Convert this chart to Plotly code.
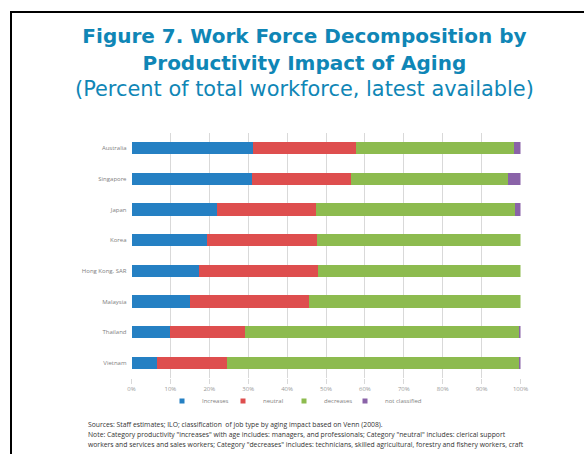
import plotly.graph_objects as go

W, H = 584, 454

countries = ["Australia", "Singapore", "Japan", "Korea", "Hong Kong, SAR",
             "Malaysia", "Thailand", "Vietnam"]
increases = [31.3, 31.0, 22.0, 19.5, 17.3, 15.0, 9.8, 6.5]
neutral = [26.4, 25.4, 25.5, 28.1, 30.7, 30.6, 19.3, 18.0]
decreases = [40.5, 40.3, 51.2, 52.4, 52.0, 54.4, 70.6, 75.2]
not_classified = [1.8, 3.3, 1.3, 0.0, 0.0, 0.0, 0.3, 0.3]

series_names = ["Increases", "neutral", "decreases", "not classified"]
series_values = [increases, neutral, decreases, not_classified]
series_colors = ["#2580C3", "#DE4E4E", "#8DBB4F", "#8A63A8"]

x_tickvals = [0, 10, 20, 30, 40, 50, 60, 70, 80, 90, 100]
x_ticktext = [f"{v}%" for v in x_tickvals]

title_line1 = "Figure 7. Work Force Decomposition by"
title_line2 = "Productivity Impact of Aging"
title_line3 = "(Percent of total workforce, latest available)"
notes = [
    "Sources: Staff estimates; ILO; classification  of job type by aging impact based on Venn (2008).",
    "Note: Category productivity \"increases\" with age includes: managers, and professionals; Category \"neutral\" includes: clerical support",
    "workers and services and sales workers; Category \"decreases\" includes: technicians, skilled agricultural, forestry and fishery workers, craft",
]

FONT = "Open Sans"
TITLE_FONT = "DejaVu Sans"
TITLE_COLOR = "#0F86B6"

fig = go.Figure()
for name, vals, col in zip(series_names, series_values, series_colors):
    fig.add_trace(go.Bar(
        y=countries, x=vals, name=name, orientation="h",
        marker=dict(color=col, line=dict(width=0)),
        showlegend=False,
    ))
for name, col in zip(series_names, series_colors):
    fig.add_trace(go.Scatter(
        x=[None], y=[None], mode="markers", name=name,
        marker=dict(symbol="square", size=5, color=col),
    ))
# spacer entry so the last legend label is not clipped
fig.add_trace(go.Scatter(
    x=[None], y=[None], mode="markers", name=" ", hoverinfo="skip",
    marker=dict(symbol="square", size=5, color="rgba(0,0,0,0)"),
))


def py(ypix):
    return 1 - ypix / H


def px(xpix):
    return xpix / W


fig.update_layout(
    width=W, height=H, autosize=False,
    margin=dict(l=0, r=0, t=0, b=0),
    paper_bgcolor="white", plot_bgcolor="white",
    barmode="stack", bargap=0.6,
    font=dict(family=FONT, size=6, color="#808080"),
    xaxis=dict(
        domain=[px(131.5), px(520.5)], range=[0, 100],
        tickvals=x_tickvals, ticktext=x_ticktext,
        showgrid=True, gridcolor="#D9D9D9", gridwidth=1,
        zeroline=False, showline=False,
        ticks="outside", ticklen=5, tickcolor="#D9D9D9",
        tickfont=dict(size=6, color="#999999"),
        fixedrange=True, automargin=False,
    ),
    yaxis=dict(
        domain=[py(378), py(133)],
        autorange="reversed",
        showgrid=False, zeroline=False, showline=False,
        ticks="", ticklabelstandoff=4,
        tickfont=dict(size=6, color="#808080"),
        fixedrange=True, automargin=False,
    ),
    legend=dict(
        orientation="h", x=px(162), y=py(401), xanchor="left", yanchor="middle",
        font=dict(size=6, color="#808080"),
        itemwidth=30, traceorder="normal",
        entrywidth=16, entrywidthmode="pixels",
        bgcolor="rgba(0,0,0,0)",
    ),
    shapes=[
        dict(type="line", xref="paper", yref="paper", x0=px(10), x1=1.0,
             y0=py(12), y1=py(12), line=dict(color="black", width=2)),
        dict(type="line", xref="paper", yref="paper", x0=px(11), x1=px(11),
             y0=py(12), y1=0, line=dict(color="black", width=2)),
    ],
)

title_text = (
    f"<b><span style='font-size:20px'>{title_line1}</span></b><br>"
    f"<b><span style='font-size:20px'>{title_line2}</span></b><br>"
    f"<span style='font-size:20.9px'>{title_line3}</span>"
)
fig.add_annotation(
    text=title_text, xref="paper", yref="paper", x=px(304), y=py(63),
    xanchor="center", yanchor="middle", align="center", showarrow=False,
    font=dict(family=TITLE_FONT, size=20.4, color=TITLE_COLOR),
)
for i, t in enumerate(notes):
    fig.add_annotation(
        text=t, xref="paper", yref="paper", x=px(86), y=py(424 + 10 * i),
        xanchor="left", yanchor="middle", showarrow=False,
        font=dict(family=FONT, size=6.8, color="#333333"),
    )

post = (
    "document.body.style.margin='0';"
    "document.body.style.overflow='hidden';"
    "document.documentElement.style.overflow='hidden';"
)
fig.write_html(
    "out.html",
    config={"responsive": False, "displayModeBar": False},
    post_script=post,
)
